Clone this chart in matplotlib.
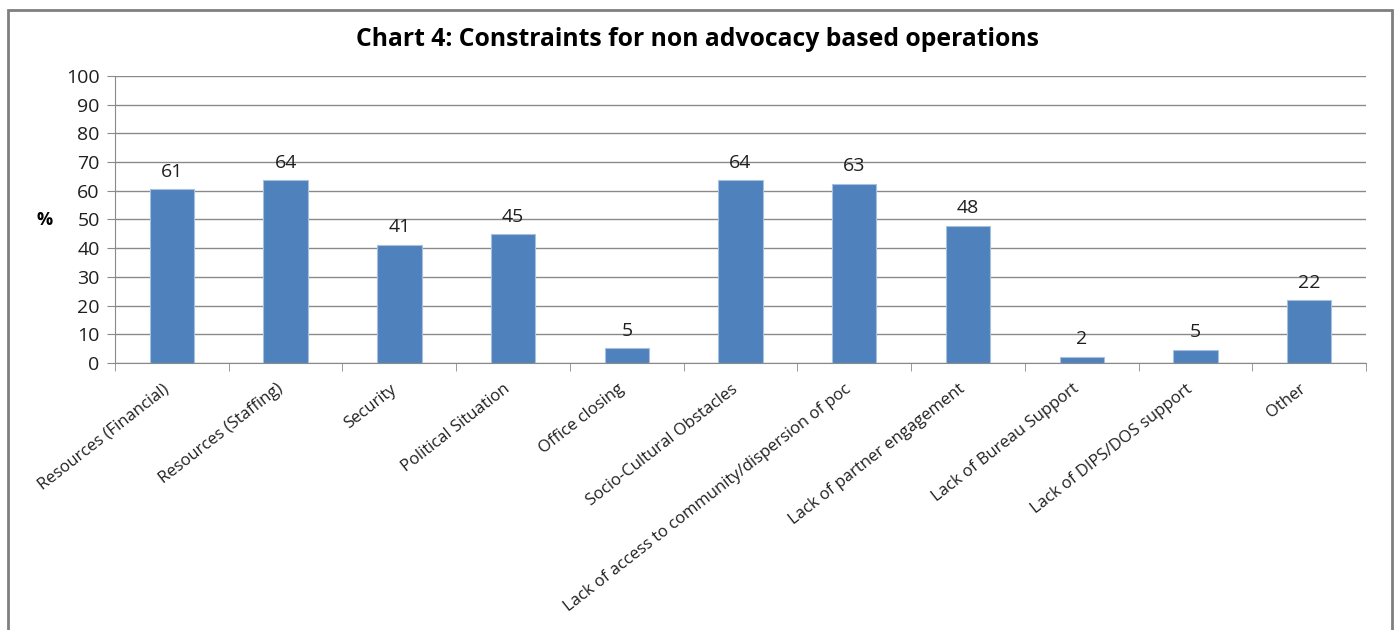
import matplotlib.pyplot as plt
import matplotlib.transforms as mtransforms
from matplotlib.patches import Rectangle
import numpy as np

plt.rcParams['font.family'] = ['Open Sans', 'DejaVu Sans']

categories = ['Resources (Financial)', 'Resources (Staffing)', 'Security',
              'Political Situation', 'Office closing', 'Socio-Cultural Obstacles',
              'Lack of access to community/dispersion of poc',
              'Lack of partner engagement', 'Lack of Bureau Support',
              'Lack of DIPS/DOS support', 'Other']
values = [60.5, 63.6, 41.2, 44.9, 5.1, 63.6, 62.5, 47.8, 2.2, 4.6, 21.9]
labels = ['61', '64', '41', '45', '5', '64', '63', '48', '2', '5', '22']

bar_color = '#4f81bd'
grid_color = '#8a8a8a'
text_color = '#1f1f1f'

fig = plt.figure(figsize=(13.94, 6.3), dpi=100)
ax = fig.add_axes([0.0825, 0.4238, 0.8975, 0.4556])

# outer chart border
fig.patches.append(Rectangle((8 / 1394, -0.05), 1384 / 1394, 1.05 - 10 / 630,
                             transform=fig.transFigure, fill=False,
                             edgecolor='#7f7f7f', lw=2))

x = np.arange(len(categories))
ax.bar(x, values, width=0.39, color=bar_color, edgecolor='#a7c0de', lw=0.8, zorder=3)
for xi, v, lab in zip(x, values, labels):
    ax.text(xi, v + 3.0, lab, ha='center', va='bottom', fontsize=14, color=text_color)

ax.set_xlim(-0.5, len(categories) - 0.5)
ax.set_ylim(0, 100)
ax.set_yticks(np.arange(0, 101, 10))
ax.yaxis.grid(True, color=grid_color, lw=1)
ax.set_axisbelow(True)

ax.set_xticks(x)
ax.set_xticklabels(categories, rotation=38, ha='right', fontsize=12, color=text_color)
shift = mtransforms.ScaledTranslation(9 / 100, 0, fig.dpi_scale_trans)
for t in ax.get_xticklabels():
    t.set_transform(t.get_transform() + shift)
ax.set_xticks(np.arange(-0.5, len(categories), 1), minor=True)
ax.tick_params(axis='x', which='major', length=0, pad=13)
ax.tick_params(axis='x', which='minor', length=6, color=grid_color, direction='out')
ax.tick_params(axis='y', length=6, color=grid_color, labelsize=14, labelcolor=text_color, pad=5)

for s in ['top', 'right']:
    ax.spines[s].set_visible(False)
for s in ['left', 'bottom']:
    ax.spines[s].set_color(grid_color)

fig.text(45 / 1394, 1 - 220 / 630, '%', ha='center', va='center',
         fontsize=13, fontweight='bold', color='black')
fig.text(0.5, 1 - 40 / 630, 'Chart 4: Constraints for non advocacy based operations',
         ha='center', va='center', fontsize=17.8, fontweight='bold', color='black')

fig.savefig('out.png', dpi=100)
